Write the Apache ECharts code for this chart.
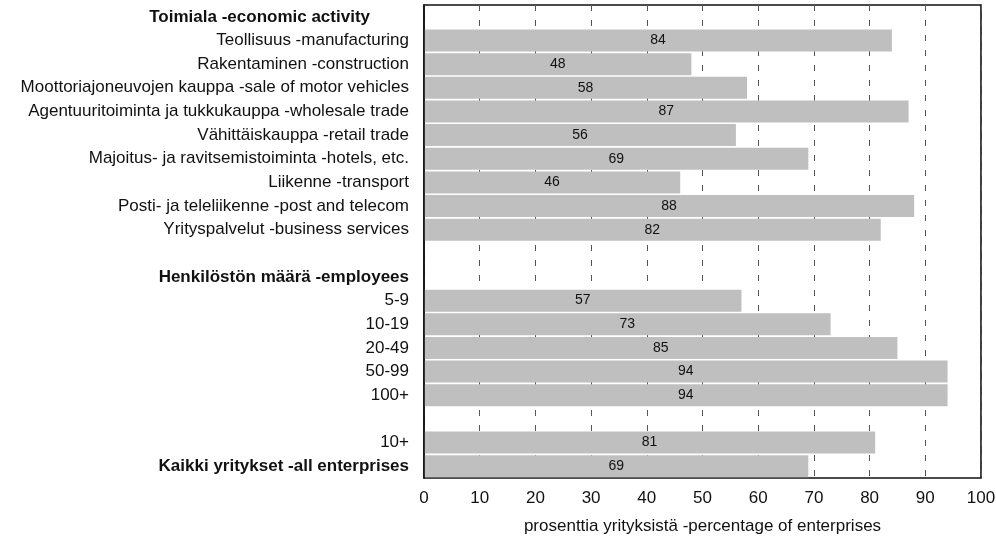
<!DOCTYPE html>
<html>
<head>
<meta charset="utf-8">
<script src="https://cdn.jsdelivr.net/npm/echarts@6/dist/echarts.min.js"></script>
<style>html,body{margin:0;padding:0;background:#fff}#c{width:996px;height:538px}</style>
</head>
<body>
<div id="c"></div>
<script>
const categories = [
  "Toimiala -economic activity",
  "Teollisuus -manufacturing",
  "Rakentaminen -construction",
  "Moottoriajoneuvojen kauppa -sale of motor vehicles",
  "Agentuuritoiminta ja tukkukauppa -wholesale trade",
  "Vähittäiskauppa -retail trade",
  "Majoitus- ja ravitsemistoiminta -hotels, etc.",
  "Liikenne -transport",
  "Posti- ja teleliikenne -post and telecom",
  "Yrityspalvelut -business services",
  " ",
  "Henkilöstön määrä -employees",
  "5-9",
  "10-19",
  "20-49",
  "50-99",
  "100+",
  "  ",
  "10+",
  "Kaikki yritykset -all enterprises"
];
const values = [null, 84, 48, 58, 87, 56, 69, 46, 88, 82, null, null, 57, 73, 85, 94, 94, null, 81, 69];
const boldCategories = ["Henkilöstön määrä -employees", "Kaikki yritykset -all enterprises"];
const indentedBoldCategories = ["Toimiala -economic activity"];
const xTicks = [0, 10, 20, 30, 40, 50, 60, 70, 80, 90, 100];
const xAxisName = "prosenttia yrityksistä -percentage of enterprises";

const FONT = 'Liberation Sans, Arial, sans-serif';
const chart = echarts.init(document.getElementById('c'), null, {renderer: 'canvas'});
chart.setOption({
  animation: false,
  textStyle: {fontFamily: FONT},
  grid: {left: 424, top: 5, right: 15, bottom: 60, containLabel: false, outerBoundsMode: 'none',
         show: true, borderColor: '#111', borderWidth: 1.6, backgroundColor: 'transparent'},
  xAxis: {
    type: 'value', min: xTicks[0], max: xTicks[xTicks.length - 1], interval: 10,
    name: xAxisName, nameLocation: 'middle', nameGap: 40,
    nameTextStyle: {fontSize: 17, color: '#111', fontFamily: FONT},
    axisLine: {show: false}, axisTick: {show: false},
    axisLabel: {fontSize: 17, color: '#111', margin: 12, fontFamily: FONT},
    splitLine: {show: true, lineStyle: {color: '#555', type: [6, 9], width: 1}}
  },
  yAxis: {
    type: 'category', data: categories, inverse: true, z: 5,
    axisLine: {show: true, lineStyle: {color: '#111', width: 1.6}}, axisTick: {show: false},
    axisLabel: {
      fontSize: 17, color: '#111', margin: 15, fontFamily: FONT,
      formatter: function (v) {
        if (indentedBoldCategories.indexOf(v) >= 0) return '{h|' + v + '}';
        return boldCategories.indexOf(v) >= 0 ? '{b|' + v + '}' : v;
      },
      rich: {
        b: {fontWeight: 'bold', fontSize: 17, color: '#111', fontFamily: FONT},
        h: {fontWeight: 'bold', fontSize: 17, color: '#111', fontFamily: FONT, padding: [0, 39, 0, 0]}
      }
    },
    splitLine: {show: false}
  },
  series: [{
    type: 'bar', data: values, barWidth: 22,
    itemStyle: {color: '#bfbfbf'},
    label: {show: true, position: 'inside', color: '#111', fontSize: 14, fontFamily: FONT}
  }]
});
</script>
</body>
</html>
